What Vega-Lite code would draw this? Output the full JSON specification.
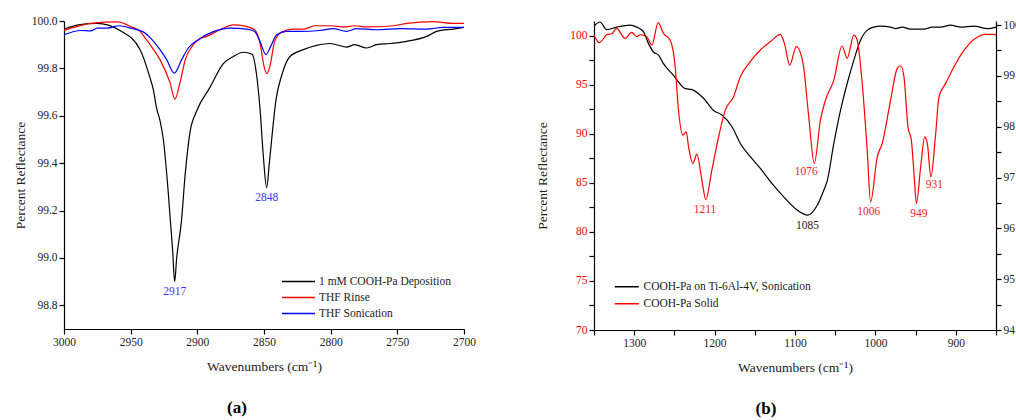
{
  "$schema": "https://vega.github.io/schema/vega-lite/v6.json",
  "padding": {"left": 13, "top": 15, "right": 0, "bottom": 5},
  "background": "white",
  "config": {
    "font": "Liberation Serif",
    "view": {"stroke": null},
    "axis": {"domainColor": "#000", "tickColor": "#000", "tickSize": 5, "domainWidth": 1.2, "tickWidth": 1.2, "labelFontSize": 11.5, "titleFontSize": 13.5, "titleFontWeight": "normal", "labelColor": "#222", "titleColor": "#222", "grid": false, "labelFont": "Liberation Serif", "titleFont": "Liberation Serif", "labelOverlap": false, "labelFlush": false},
    "legend": {"labelFont": "Liberation Serif", "labelFontSize": 11.5, "labelColor": "#222", "symbolStrokeWidth": 1.5, "rowPadding": 4, "labelLimit": 300, "padding": 0},
    "concat": {"spacing": 59},
    "text": {"font": "Liberation Serif"}
  },
  "datasets": {
    "a": [
      {"w": 3000, "v": 99.966, "s": "1 mM COOH-Pa Deposition"},
      {"w": 2988, "v": 99.985, "s": "1 mM COOH-Pa Deposition"},
      {"w": 2975.5, "v": 99.99, "s": "1 mM COOH-Pa Deposition"},
      {"w": 2958, "v": 99.96, "s": "1 mM COOH-Pa Deposition"},
      {"w": 2943, "v": 99.88, "s": "1 mM COOH-Pa Deposition"},
      {"w": 2936, "v": 99.77, "s": "1 mM COOH-Pa Deposition"},
      {"w": 2933, "v": 99.71, "s": "1 mM COOH-Pa Deposition"},
      {"w": 2930.5, "v": 99.63, "s": "1 mM COOH-Pa Deposition"},
      {"w": 2928, "v": 99.58, "s": "1 mM COOH-Pa Deposition"},
      {"w": 2925.5, "v": 99.5, "s": "1 mM COOH-Pa Deposition"},
      {"w": 2922, "v": 99.29, "s": "1 mM COOH-Pa Deposition"},
      {"w": 2918.5, "v": 99.03, "s": "1 mM COOH-Pa Deposition"},
      {"w": 2917, "v": 98.9, "s": "1 mM COOH-Pa Deposition"},
      {"w": 2915.5, "v": 99.0, "s": "1 mM COOH-Pa Deposition"},
      {"w": 2912, "v": 99.15, "s": "1 mM COOH-Pa Deposition"},
      {"w": 2909, "v": 99.36, "s": "1 mM COOH-Pa Deposition"},
      {"w": 2905.5, "v": 99.53, "s": "1 mM COOH-Pa Deposition"},
      {"w": 2900.5, "v": 99.62, "s": "1 mM COOH-Pa Deposition"},
      {"w": 2890.5, "v": 99.72, "s": "1 mM COOH-Pa Deposition"},
      {"w": 2880.5, "v": 99.82, "s": "1 mM COOH-Pa Deposition"},
      {"w": 2873, "v": 99.85, "s": "1 mM COOH-Pa Deposition"},
      {"w": 2865.5, "v": 99.868, "s": "1 mM COOH-Pa Deposition"},
      {"w": 2859, "v": 99.86, "s": "1 mM COOH-Pa Deposition"},
      {"w": 2855.5, "v": 99.77, "s": "1 mM COOH-Pa Deposition"},
      {"w": 2853, "v": 99.63, "s": "1 mM COOH-Pa Deposition"},
      {"w": 2850.5, "v": 99.43, "s": "1 mM COOH-Pa Deposition"},
      {"w": 2848, "v": 99.296, "s": "1 mM COOH-Pa Deposition"},
      {"w": 2846, "v": 99.4, "s": "1 mM COOH-Pa Deposition"},
      {"w": 2844.25, "v": 99.5, "s": "1 mM COOH-Pa Deposition"},
      {"w": 2841, "v": 99.668, "s": "1 mM COOH-Pa Deposition"},
      {"w": 2836.75, "v": 99.77, "s": "1 mM COOH-Pa Deposition"},
      {"w": 2830.5, "v": 99.85, "s": "1 mM COOH-Pa Deposition"},
      {"w": 2820.5, "v": 99.879, "s": "1 mM COOH-Pa Deposition"},
      {"w": 2810.5, "v": 99.897, "s": "1 mM COOH-Pa Deposition"},
      {"w": 2800.5, "v": 99.905, "s": "1 mM COOH-Pa Deposition"},
      {"w": 2788, "v": 99.89, "s": "1 mM COOH-Pa Deposition"},
      {"w": 2782, "v": 99.9, "s": "1 mM COOH-Pa Deposition"},
      {"w": 2773, "v": 99.886, "s": "1 mM COOH-Pa Deposition"},
      {"w": 2765.5, "v": 99.9, "s": "1 mM COOH-Pa Deposition"},
      {"w": 2755.5, "v": 99.905, "s": "1 mM COOH-Pa Deposition"},
      {"w": 2743, "v": 99.914, "s": "1 mM COOH-Pa Deposition"},
      {"w": 2728, "v": 99.935, "s": "1 mM COOH-Pa Deposition"},
      {"w": 2720.5, "v": 99.956, "s": "1 mM COOH-Pa Deposition"},
      {"w": 2708, "v": 99.966, "s": "1 mM COOH-Pa Deposition"},
      {"w": 2700, "v": 99.973, "s": "1 mM COOH-Pa Deposition"},
      {"w": 3000, "v": 99.96, "s": "THF Rinse"},
      {"w": 2990, "v": 99.977, "s": "THF Rinse"},
      {"w": 2980, "v": 99.99, "s": "THF Rinse"},
      {"w": 2960, "v": 99.996, "s": "THF Rinse"},
      {"w": 2950, "v": 99.977, "s": "THF Rinse"},
      {"w": 2943, "v": 99.956, "s": "THF Rinse"},
      {"w": 2938, "v": 99.92, "s": "THF Rinse"},
      {"w": 2933, "v": 99.88, "s": "THF Rinse"},
      {"w": 2928, "v": 99.837, "s": "THF Rinse"},
      {"w": 2920.5, "v": 99.74, "s": "THF Rinse"},
      {"w": 2916.75, "v": 99.67, "s": "THF Rinse"},
      {"w": 2913, "v": 99.74, "s": "THF Rinse"},
      {"w": 2909, "v": 99.837, "s": "THF Rinse"},
      {"w": 2904, "v": 99.893, "s": "THF Rinse"},
      {"w": 2898, "v": 99.925, "s": "THF Rinse"},
      {"w": 2893, "v": 99.935, "s": "THF Rinse"},
      {"w": 2883, "v": 99.963, "s": "THF Rinse"},
      {"w": 2873, "v": 99.984, "s": "THF Rinse"},
      {"w": 2865.5, "v": 99.98, "s": "THF Rinse"},
      {"w": 2857, "v": 99.963, "s": "THF Rinse"},
      {"w": 2853, "v": 99.907, "s": "THF Rinse"},
      {"w": 2850, "v": 99.81, "s": "THF Rinse"},
      {"w": 2848, "v": 99.778, "s": "THF Rinse"},
      {"w": 2845.5, "v": 99.81, "s": "THF Rinse"},
      {"w": 2842, "v": 99.914, "s": "THF Rinse"},
      {"w": 2837, "v": 99.952, "s": "THF Rinse"},
      {"w": 2828, "v": 99.966, "s": "THF Rinse"},
      {"w": 2820, "v": 99.966, "s": "THF Rinse"},
      {"w": 2812, "v": 99.98, "s": "THF Rinse"},
      {"w": 2800, "v": 99.98, "s": "THF Rinse"},
      {"w": 2790, "v": 99.975, "s": "THF Rinse"},
      {"w": 2782, "v": 99.98, "s": "THF Rinse"},
      {"w": 2773, "v": 99.975, "s": "THF Rinse"},
      {"w": 2753, "v": 99.98, "s": "THF Rinse"},
      {"w": 2743, "v": 99.99, "s": "THF Rinse"},
      {"w": 2723, "v": 99.997, "s": "THF Rinse"},
      {"w": 2708, "v": 99.99, "s": "THF Rinse"},
      {"w": 2700, "v": 99.99, "s": "THF Rinse"},
      {"w": 3000, "v": 99.942, "s": "THF Sonication"},
      {"w": 2987.5, "v": 99.96, "s": "THF Sonication"},
      {"w": 2980, "v": 99.958, "s": "THF Sonication"},
      {"w": 2975, "v": 99.97, "s": "THF Sonication"},
      {"w": 2967.5, "v": 99.97, "s": "THF Sonication"},
      {"w": 2958.75, "v": 99.98, "s": "THF Sonication"},
      {"w": 2950, "v": 99.97, "s": "THF Sonication"},
      {"w": 2940, "v": 99.952, "s": "THF Sonication"},
      {"w": 2935, "v": 99.928, "s": "THF Sonication"},
      {"w": 2928, "v": 99.879, "s": "THF Sonication"},
      {"w": 2923, "v": 99.837, "s": "THF Sonication"},
      {"w": 2917.25, "v": 99.78, "s": "THF Sonication"},
      {"w": 2911.75, "v": 99.837, "s": "THF Sonication"},
      {"w": 2906.75, "v": 99.886, "s": "THF Sonication"},
      {"w": 2899.3, "v": 99.921, "s": "THF Sonication"},
      {"w": 2888, "v": 99.955, "s": "THF Sonication"},
      {"w": 2875.5, "v": 99.97, "s": "THF Sonication"},
      {"w": 2863, "v": 99.966, "s": "THF Sonication"},
      {"w": 2857, "v": 99.956, "s": "THF Sonication"},
      {"w": 2853, "v": 99.914, "s": "THF Sonication"},
      {"w": 2848.5, "v": 99.858, "s": "THF Sonication"},
      {"w": 2845, "v": 99.893, "s": "THF Sonication"},
      {"w": 2840.5, "v": 99.942, "s": "THF Sonication"},
      {"w": 2833, "v": 99.956, "s": "THF Sonication"},
      {"w": 2823, "v": 99.956, "s": "THF Sonication"},
      {"w": 2808, "v": 99.96, "s": "THF Sonication"},
      {"w": 2798, "v": 99.968, "s": "THF Sonication"},
      {"w": 2788, "v": 99.956, "s": "THF Sonication"},
      {"w": 2780.5, "v": 99.968, "s": "THF Sonication"},
      {"w": 2765.5, "v": 99.963, "s": "THF Sonication"},
      {"w": 2748, "v": 99.968, "s": "THF Sonication"},
      {"w": 2728, "v": 99.966, "s": "THF Sonication"},
      {"w": 2715.5, "v": 99.973, "s": "THF Sonication"},
      {"w": 2700, "v": 99.973, "s": "THF Sonication"}
    ],
    "bSon": [
      {"w": 1350, "v": 99.98, "s": "COOH-Pa on Ti-6Al-4V, Sonication"},
      {"w": 1342.5, "v": 100.06, "s": "COOH-Pa on Ti-6Al-4V, Sonication"},
      {"w": 1334.2, "v": 99.91, "s": "COOH-Pa on Ti-6Al-4V, Sonication"},
      {"w": 1321.8, "v": 99.96, "s": "COOH-Pa on Ti-6Al-4V, Sonication"},
      {"w": 1305.1, "v": 100.0, "s": "COOH-Pa on Ti-6Al-4V, Sonication"},
      {"w": 1296.8, "v": 99.96, "s": "COOH-Pa on Ti-6Al-4V, Sonication"},
      {"w": 1288.5, "v": 99.87, "s": "COOH-Pa on Ti-6Al-4V, Sonication"},
      {"w": 1282.3, "v": 99.64, "s": "COOH-Pa on Ti-6Al-4V, Sonication"},
      {"w": 1276, "v": 99.47, "s": "COOH-Pa on Ti-6Al-4V, Sonication"},
      {"w": 1269.8, "v": 99.41, "s": "COOH-Pa on Ti-6Al-4V, Sonication"},
      {"w": 1263.6, "v": 99.24, "s": "COOH-Pa on Ti-6Al-4V, Sonication"},
      {"w": 1251.1, "v": 99.01, "s": "COOH-Pa on Ti-6Al-4V, Sonication"},
      {"w": 1236.6, "v": 98.75, "s": "COOH-Pa on Ti-6Al-4V, Sonication"},
      {"w": 1228.3, "v": 98.73, "s": "COOH-Pa on Ti-6Al-4V, Sonication"},
      {"w": 1213.8, "v": 98.56, "s": "COOH-Pa on Ti-6Al-4V, Sonication"},
      {"w": 1201.3, "v": 98.32, "s": "COOH-Pa on Ti-6Al-4V, Sonication"},
      {"w": 1190.9, "v": 98.23, "s": "COOH-Pa on Ti-6Al-4V, Sonication"},
      {"w": 1178.4, "v": 98.0, "s": "COOH-Pa on Ti-6Al-4V, Sonication"},
      {"w": 1168, "v": 97.67, "s": "COOH-Pa on Ti-6Al-4V, Sonication"},
      {"w": 1155.6, "v": 97.41, "s": "COOH-Pa on Ti-6Al-4V, Sonication"},
      {"w": 1143.1, "v": 97.18, "s": "COOH-Pa on Ti-6Al-4V, Sonication"},
      {"w": 1128.5, "v": 96.88, "s": "COOH-Pa on Ti-6Al-4V, Sonication"},
      {"w": 1114, "v": 96.62, "s": "COOH-Pa on Ti-6Al-4V, Sonication"},
      {"w": 1097.4, "v": 96.36, "s": "COOH-Pa on Ti-6Al-4V, Sonication"},
      {"w": 1084.1, "v": 96.26, "s": "COOH-Pa on Ti-6Al-4V, Sonication"},
      {"w": 1072.5, "v": 96.45, "s": "COOH-Pa on Ti-6Al-4V, Sonication"},
      {"w": 1064.2, "v": 96.75, "s": "COOH-Pa on Ti-6Al-4V, Sonication"},
      {"w": 1060, "v": 96.93, "s": "COOH-Pa on Ti-6Al-4V, Sonication"},
      {"w": 1051.7, "v": 97.67, "s": "COOH-Pa on Ti-6Al-4V, Sonication"},
      {"w": 1043.4, "v": 98.32, "s": "COOH-Pa on Ti-6Al-4V, Sonication"},
      {"w": 1035.1, "v": 98.85, "s": "COOH-Pa on Ti-6Al-4V, Sonication"},
      {"w": 1026.8, "v": 99.31, "s": "COOH-Pa on Ti-6Al-4V, Sonication"},
      {"w": 1018.5, "v": 99.7, "s": "COOH-Pa on Ti-6Al-4V, Sonication"},
      {"w": 1010.2, "v": 99.9, "s": "COOH-Pa on Ti-6Al-4V, Sonication"},
      {"w": 1001.9, "v": 99.96, "s": "COOH-Pa on Ti-6Al-4V, Sonication"},
      {"w": 993.6, "v": 99.98, "s": "COOH-Pa on Ti-6Al-4V, Sonication"},
      {"w": 981.1, "v": 99.96, "s": "COOH-Pa on Ti-6Al-4V, Sonication"},
      {"w": 974.9, "v": 99.93, "s": "COOH-Pa on Ti-6Al-4V, Sonication"},
      {"w": 966.6, "v": 99.96, "s": "COOH-Pa on Ti-6Al-4V, Sonication"},
      {"w": 956.2, "v": 99.92, "s": "COOH-Pa on Ti-6Al-4V, Sonication"},
      {"w": 939.6, "v": 99.92, "s": "COOH-Pa on Ti-6Al-4V, Sonication"},
      {"w": 929.2, "v": 99.96, "s": "COOH-Pa on Ti-6Al-4V, Sonication"},
      {"w": 918.8, "v": 99.96, "s": "COOH-Pa on Ti-6Al-4V, Sonication"},
      {"w": 906.4, "v": 100.0, "s": "COOH-Pa on Ti-6Al-4V, Sonication"},
      {"w": 893.9, "v": 99.96, "s": "COOH-Pa on Ti-6Al-4V, Sonication"},
      {"w": 877.3, "v": 99.98, "s": "COOH-Pa on Ti-6Al-4V, Sonication"},
      {"w": 860.6, "v": 99.93, "s": "COOH-Pa on Ti-6Al-4V, Sonication"},
      {"w": 850, "v": 99.96, "s": "COOH-Pa on Ti-6Al-4V, Sonication"}
    ],
    "bSolid": [
      {"w": 1350, "v": 100.07, "s": "COOH-Pa Solid"},
      {"w": 1343.4, "v": 99.29, "s": "COOH-Pa Solid"},
      {"w": 1333.4, "v": 100.14, "s": "COOH-Pa Solid"},
      {"w": 1328, "v": 100.2, "s": "COOH-Pa Solid"},
      {"w": 1321.8, "v": 100.75, "s": "COOH-Pa Solid"},
      {"w": 1311.4, "v": 99.73, "s": "COOH-Pa Solid"},
      {"w": 1303, "v": 100.35, "s": "COOH-Pa Solid"},
      {"w": 1296.8, "v": 99.9, "s": "COOH-Pa Solid"},
      {"w": 1292.7, "v": 100.1, "s": "COOH-Pa Solid"},
      {"w": 1284.4, "v": 99.9, "s": "COOH-Pa Solid"},
      {"w": 1278, "v": 99.05, "s": "COOH-Pa Solid"},
      {"w": 1270.2, "v": 101.33, "s": "COOH-Pa Solid"},
      {"w": 1263.6, "v": 100.24, "s": "COOH-Pa Solid"},
      {"w": 1255.3, "v": 99.56, "s": "COOH-Pa Solid"},
      {"w": 1249, "v": 96.84, "s": "COOH-Pa Solid"},
      {"w": 1244.9, "v": 92.42, "s": "COOH-Pa Solid"},
      {"w": 1239.5, "v": 89.87, "s": "COOH-Pa Solid"},
      {"w": 1235.3, "v": 90.2, "s": "COOH-Pa Solid"},
      {"w": 1232.4, "v": 88.67, "s": "COOH-Pa Solid"},
      {"w": 1227, "v": 86.98, "s": "COOH-Pa Solid"},
      {"w": 1222, "v": 87.93, "s": "COOH-Pa Solid"},
      {"w": 1215.8, "v": 85.28, "s": "COOH-Pa Solid"},
      {"w": 1211, "v": 83.3, "s": "COOH-Pa Solid"},
      {"w": 1203.4, "v": 86.3, "s": "COOH-Pa Solid"},
      {"w": 1195, "v": 89.7, "s": "COOH-Pa Solid"},
      {"w": 1186.7, "v": 92.42, "s": "COOH-Pa Solid"},
      {"w": 1176.4, "v": 93.78, "s": "COOH-Pa Solid"},
      {"w": 1168, "v": 95.82, "s": "COOH-Pa Solid"},
      {"w": 1155.6, "v": 97.35, "s": "COOH-Pa Solid"},
      {"w": 1143.1, "v": 98.54, "s": "COOH-Pa Solid"},
      {"w": 1130.7, "v": 99.39, "s": "COOH-Pa Solid"},
      {"w": 1118.2, "v": 100.14, "s": "COOH-Pa Solid"},
      {"w": 1113.2, "v": 99.22, "s": "COOH-Pa Solid"},
      {"w": 1106.6, "v": 97.01, "s": "COOH-Pa Solid"},
      {"w": 1098.3, "v": 98.88, "s": "COOH-Pa Solid"},
      {"w": 1090, "v": 97.18, "s": "COOH-Pa Solid"},
      {"w": 1082.9, "v": 91.73, "s": "COOH-Pa Solid"},
      {"w": 1076, "v": 86.98, "s": "COOH-Pa Solid"},
      {"w": 1068.4, "v": 91.4, "s": "COOH-Pa Solid"},
      {"w": 1062.1, "v": 93.44, "s": "COOH-Pa Solid"},
      {"w": 1051.7, "v": 95.48, "s": "COOH-Pa Solid"},
      {"w": 1041.4, "v": 98.95, "s": "COOH-Pa Solid"},
      {"w": 1035.1, "v": 97.7, "s": "COOH-Pa Solid"},
      {"w": 1026.8, "v": 100.07, "s": "COOH-Pa Solid"},
      {"w": 1022.7, "v": 99.56, "s": "COOH-Pa Solid"},
      {"w": 1016.4, "v": 95.14, "s": "COOH-Pa Solid"},
      {"w": 1010.2, "v": 88.34, "s": "COOH-Pa Solid"},
      {"w": 1006, "v": 83.06, "s": "COOH-Pa Solid"},
      {"w": 997.7, "v": 87.65, "s": "COOH-Pa Solid"},
      {"w": 991.5, "v": 89.02, "s": "COOH-Pa Solid"},
      {"w": 981.1, "v": 93.44, "s": "COOH-Pa Solid"},
      {"w": 972.8, "v": 96.67, "s": "COOH-Pa Solid"},
      {"w": 968.6, "v": 96.94, "s": "COOH-Pa Solid"},
      {"w": 964.5, "v": 95.82, "s": "COOH-Pa Solid"},
      {"w": 959.5, "v": 90.71, "s": "COOH-Pa Solid"},
      {"w": 955.3, "v": 89.36, "s": "COOH-Pa Solid"},
      {"w": 952, "v": 85.96, "s": "COOH-Pa Solid"},
      {"w": 949, "v": 82.9, "s": "COOH-Pa Solid"},
      {"w": 943.7, "v": 86.63, "s": "COOH-Pa Solid"},
      {"w": 938.7, "v": 89.69, "s": "COOH-Pa Solid"},
      {"w": 935.4, "v": 89.02, "s": "COOH-Pa Solid"},
      {"w": 931, "v": 85.61, "s": "COOH-Pa Solid"},
      {"w": 925, "v": 90.04, "s": "COOH-Pa Solid"},
      {"w": 920.9, "v": 93.78, "s": "COOH-Pa Solid"},
      {"w": 912.6, "v": 95.14, "s": "COOH-Pa Solid"},
      {"w": 902.2, "v": 96.84, "s": "COOH-Pa Solid"},
      {"w": 889.7, "v": 98.54, "s": "COOH-Pa Solid"},
      {"w": 877.3, "v": 99.63, "s": "COOH-Pa Solid"},
      {"w": 862.7, "v": 100.14, "s": "COOH-Pa Solid"},
      {"w": 852.4, "v": 100.14, "s": "COOH-Pa Solid"},
      {"w": 850, "v": 100.07, "s": "COOH-Pa Solid"}
    ]
  },
  "hconcat": [
    {
      "width": 400,
      "height": 308,
      "title": {"text": "(a)", "orient": "bottom", "fontSize": 17, "fontWeight": "bold", "font": "Liberation Serif", "color": "#000", "dx": -27, "offset": 27},
      "layer": [
        {
          "data": {"name": "a"},
          "mark": {"type": "line", "strokeWidth": 1.2, "interpolate": "monotone", "clip": true},
          "encoding": {
            "x": {"field": "w", "type": "quantitative", "scale": {"domain": [2700, 3000], "reverse": true, "nice": false, "zero": false},
              "axis": {"title": "Wavenumbers (cm⁻¹)", "values": [2700, 2725, 2750, 2775, 2800, 2825, 2850, 2875, 2900, 2925, 2950, 2975, 3000], "format": "d", "labelExpr": "datum.value % 50 == 0 ? datum.label : ''", "titlePadding": 12}},
            "y": {"field": "v", "type": "quantitative", "scale": {"domain": [98.7, 100], "nice": false, "zero": false},
              "axis": {"title": "Percent Reflectance", "values": [98.8, 98.9, 99.0, 99.1, 99.2, 99.3, 99.4, 99.5, 99.6, 99.7, 99.8, 99.9, 100.0], "labelExpr": "round(datum.value*10) % 2 == 0 ? format(datum.value, '.1f') : ''", "titlePadding": 4}},
            "color": {"field": "s", "type": "nominal", "sort": null,
              "scale": {"domain": ["1 mM COOH-Pa Deposition", "THF Rinse", "THF Sonication"], "range": ["#000000", "#ff0000", "#0000ff"]},
              "legend": {"title": null, "orient": "none", "legendX": 228, "legendY": 254, "symbolType": "M-3,0H3", "symbolSize": 121, "labelOffset": 14}}
          }
        },
        {
          "data": {"values": [{"w": 2917, "v": 98.855, "t": "2917"}, {"w": 2848, "v": 99.255, "t": "2848"}]},
          "mark": {"type": "text", "color": "#3a3aff", "fontSize": 11.5, "baseline": "middle"},
          "encoding": {
            "x": {"field": "w", "type": "quantitative"},
            "y": {"field": "v", "type": "quantitative"},
            "text": {"field": "t"}
          }
        }
      ]
    },
    {
      "width": 402,
      "height": 309,
      "title": {"text": "(b)", "orient": "bottom", "fontSize": 17, "fontWeight": "bold", "font": "Liberation Serif", "color": "#000", "dx": -29, "offset": 27},
      "layer": [
        {
          "data": {"name": "bSon"},
          "mark": {"type": "line", "strokeWidth": 1.2, "interpolate": "monotone", "clip": true},
          "encoding": {
            "x": {"field": "w", "type": "quantitative", "scale": {"domain": [850, 1350], "reverse": true, "nice": false, "zero": false},
              "axis": {"title": "Wavenumbers (cm⁻¹)", "values": [850, 900, 950, 1000, 1050, 1100, 1150, 1200, 1250, 1300, 1350], "format": "d", "labelExpr": "datum.value % 100 == 0 ? datum.label : ''", "titlePadding": 12}},
            "y": {"field": "v", "type": "quantitative", "scale": {"domain": [94, 100.08], "nice": false, "zero": false},
              "axis": {"orient": "right", "title": null, "values": [94, 94.5, 95, 95.5, 96, 96.5, 97, 97.5, 98, 98.5, 99, 99.5, 100], "labelExpr": "datum.value % 1 == 0 ? format(datum.value, 'd') : ''", "labelPadding": 2}},
            "color": {"field": "s", "type": "nominal", "sort": null,
              "scale": {"domain": ["COOH-Pa on Ti-6Al-4V, Sonication", "COOH-Pa Solid"], "range": ["#000000", "#ff0000"]},
              "legend": {"title": null, "orient": "none", "legendX": 27, "legendY": 260, "symbolType": "M-3,0H3", "symbolSize": 64, "labelOffset": 11}}
          }
        },
        {
          "data": {"name": "bSolid"},
          "mark": {"type": "line", "strokeWidth": 1.2, "interpolate": "monotone", "clip": true},
          "encoding": {
            "x": {"field": "w", "type": "quantitative", "scale": {"domain": [850, 1350], "reverse": true, "nice": false, "zero": false}},
            "y": {"field": "v", "type": "quantitative", "scale": {"domain": [70, 101.5], "nice": false, "zero": false},
              "axis": {"orient": "left", "title": "Percent Reflectance", "values": [70, 72.5, 75, 77.5, 80, 82.5, 85, 87.5, 90, 92.5, 95, 97.5, 100], "labelExpr": "datum.value % 5 == 0 ? format(datum.value, 'd') : ''", "labelColor": "#ff0000", "titlePadding": 20}},
            "color": {"field": "s", "type": "nominal", "sort": null,
              "scale": {"domain": ["COOH-Pa on Ti-6Al-4V, Sonication", "COOH-Pa Solid"], "range": ["#000000", "#ff0000"]}}
          }
        },
        {
          "data": {"values": [{"w": 1212, "v": 82.2, "t": "1211"}, {"w": 1086, "v": 86.06, "t": "1076"}, {"w": 1008.4, "v": 82.04, "t": "1006"}, {"w": 946, "v": 81.8, "t": "949"}, {"w": 926.6, "v": 84.77, "t": "931"}]},
          "mark": {"type": "text", "color": "#ff2020", "fontSize": 11.5, "baseline": "middle"},
          "encoding": {
            "x": {"field": "w", "type": "quantitative"},
            "y": {"field": "v", "type": "quantitative", "scale": {"domain": [70, 101.5], "nice": false, "zero": false}, "axis": null},
            "text": {"field": "t"}
          }
        },
        {
          "data": {"values": [{"w": 1084.4, "v": 80.58, "t": "1085"}]},
          "mark": {"type": "text", "color": "#222", "fontSize": 11.5, "baseline": "middle"},
          "encoding": {
            "x": {"field": "w", "type": "quantitative"},
            "y": {"field": "v", "type": "quantitative", "scale": {"domain": [70, 101.5], "nice": false, "zero": false}, "axis": null},
            "text": {"field": "t"}
          }
        }
      ],
      "resolve": {"scale": {"y": "independent"}, "axis": {"y": "independent"}}
    }
  ],
  "resolve": {"scale": {"color": "independent", "x": "independent", "y": "independent"}, "legend": {"color": "independent"}}
}
